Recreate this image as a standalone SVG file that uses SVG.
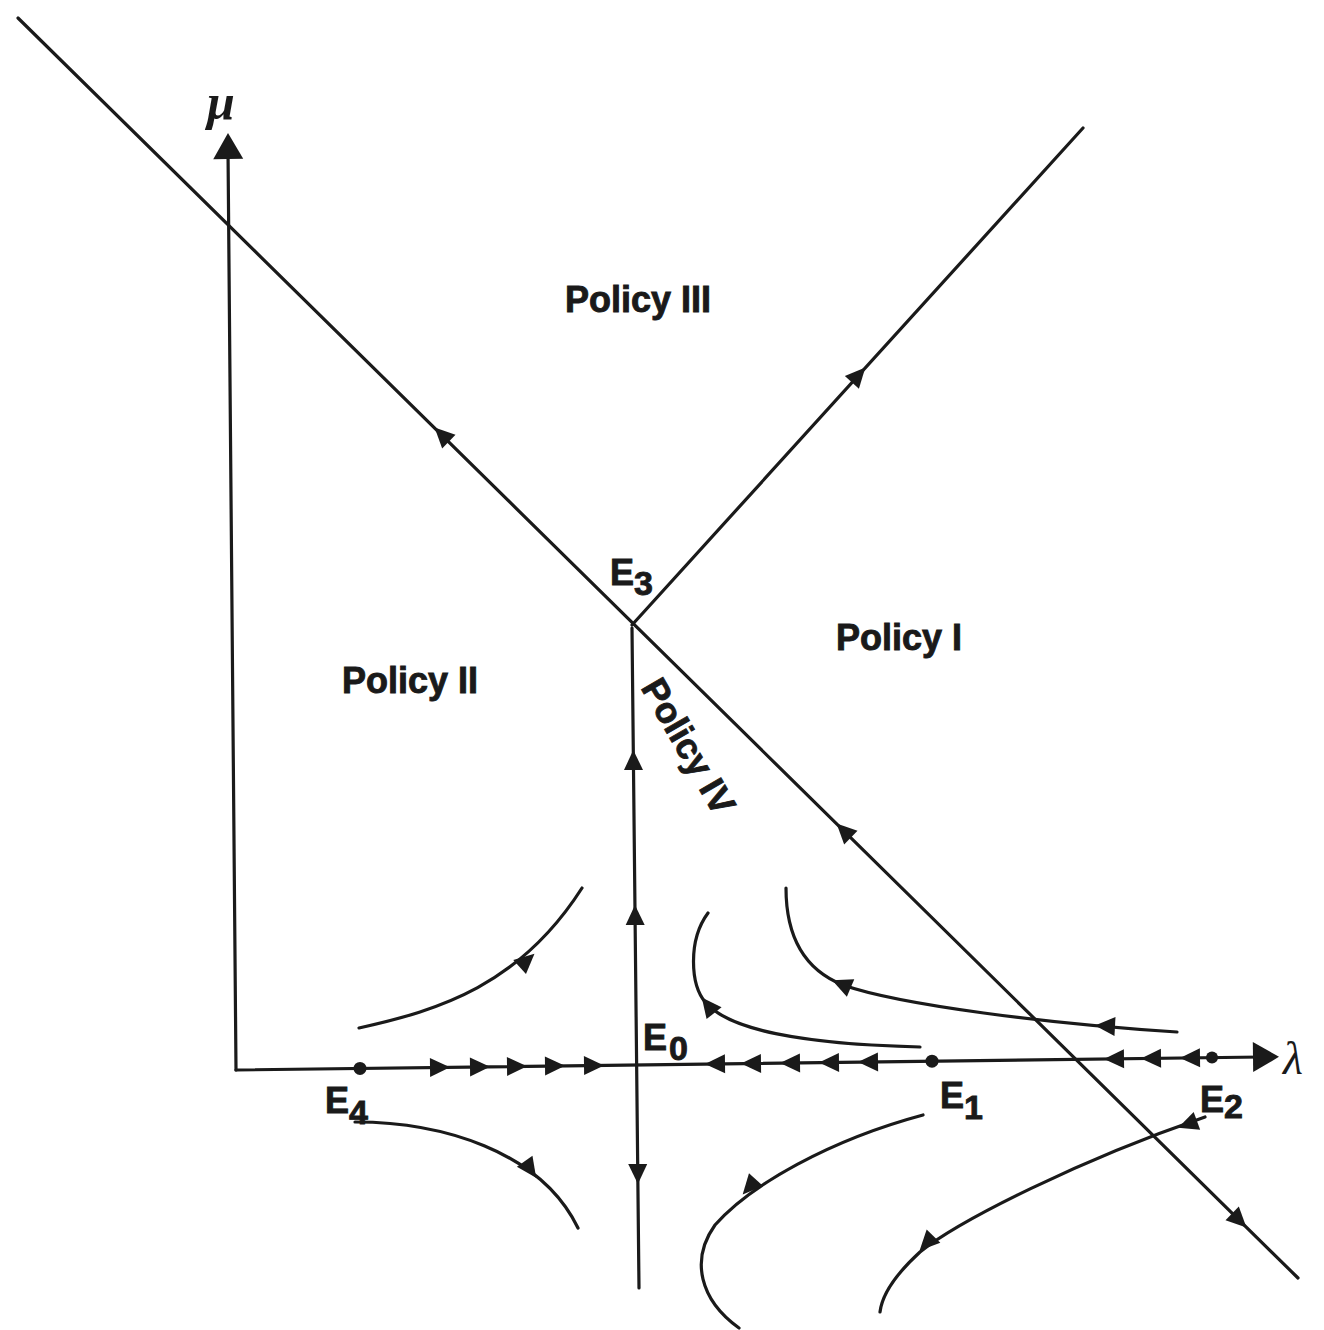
<svg xmlns="http://www.w3.org/2000/svg" xmlns:xlink="http://www.w3.org/1999/xlink" width="1324" height="1330" viewBox="0 0 1324 1330">
<style>
.ln{fill:none;stroke:#1a1a1a;stroke-width:3.2;stroke-linecap:round}
.ah{fill:#1a1a1a}
.lbl{font-family:"Liberation Sans",Arial,sans-serif;font-weight:bold;font-size:36px;fill:#1a1a1a;stroke:#1a1a1a;stroke-width:0.9}
.sub{font-size:34px}
.greek{font-family:"Liberation Serif","DejaVu Serif",serif;font-style:italic;fill:#1a1a1a}
.dot{fill:#1a1a1a}
</style>
<defs>
<path id="ah" d="M2,0 L-18,-9.5 L-18,9.5 Z" class="ah"/>
<path id="ahL" d="M0,0 L-26,-15 L-26,15 Z" class="ah"/>
</defs>
<rect width="1324" height="1330" fill="#ffffff"/>

<g id="connectors">
  <!-- axes -->
  <line class="ln" x1="236" y1="1070" x2="228" y2="150"/>
  <use href="#ahL" transform="translate(228,133) rotate(-90.5)"/>
  <line class="ln" x1="236" y1="1070" x2="1262" y2="1057"/>
  <use href="#ahL" transform="translate(1279,1056.8) rotate(-0.7)"/>

  <!-- separatrix lines -->
  <line class="ln" x1="18" y1="18" x2="1298" y2="1278"/>
  <line class="ln" x1="632" y1="625" x2="1083" y2="128"/>
  <line class="ln" x1="632" y1="628" x2="639" y2="1288"/>

  <!-- arrows on diagonal -->
  <use href="#ah" transform="translate(436,429) rotate(224.5)"/>
  <use href="#ah" transform="translate(838,825) rotate(224.5)"/>
  <use href="#ah" transform="translate(1245,1226) rotate(44.5)"/>
  <use href="#ah" transform="translate(864,369) rotate(-47.7)"/>

  <!-- arrows on vertical -->
  <use href="#ah" transform="translate(633.3,752) rotate(-90.6)"/>
  <use href="#ah" transform="translate(635,907) rotate(-90.6)"/>
  <use href="#ah" transform="translate(637.9,1182) rotate(89.4)"/>

  <!-- arrows on lambda axis -->
  <use href="#ah" transform="translate(448,1067.3) rotate(-0.7)"/>
  <use href="#ah" transform="translate(488,1066.8) rotate(-0.7)"/>
  <use href="#ah" transform="translate(525,1066.3) rotate(-0.7)"/>
  <use href="#ah" transform="translate(563,1065.8) rotate(-0.7)"/>
  <use href="#ah" transform="translate(602,1065.4) rotate(-0.7)"/>
  <use href="#ah" transform="translate(707,1064) rotate(179.3)"/>
  <use href="#ah" transform="translate(743,1063.6) rotate(179.3)"/>
  <use href="#ah" transform="translate(782,1063.1) rotate(179.3)"/>
  <use href="#ah" transform="translate(821,1062.6) rotate(179.3)"/>
  <use href="#ah" transform="translate(860,1062.1) rotate(179.3)"/>
  <use href="#ah" transform="translate(1106,1059) rotate(179.3)"/>
  <use href="#ah" transform="translate(1143,1058.5) rotate(179.3)"/>
  <use href="#ah" transform="translate(1182,1058) rotate(179.3)"/>

  <!-- trajectories -->
  <path class="ln" d="M359,1028 C440,1010 520,985 582,888"/>
  <use href="#ah" transform="translate(533,955) rotate(-42)"/>

  <path class="ln" d="M920,1047 C800,1044 730,1030 706,1003 C690,985 688,940 708,913"/>
  <use href="#ah" transform="translate(703,999) rotate(-128)"/>

  <path class="ln" d="M1177,1032 C1050,1024 900,1005 843,985 C800,968 786,930 786,888"/>
  <use href="#ah" transform="translate(1097,1025.5) rotate(183)"/>
  <use href="#ah" transform="translate(834,981) rotate(-157)"/>

  <path class="ln" d="M355,1122 C440,1122 540,1150 578,1228"/>
  <use href="#ah" transform="translate(535,1176) rotate(55)"/>

  <path class="ln" d="M923,1115 C830,1140 750,1185 715,1225 C690,1260 700,1300 739,1328"/>
  <use href="#ah" transform="translate(744,1193) rotate(132)"/>

  <path class="ln" d="M1205,1117 C1080,1160 960,1220 920,1252 C895,1275 882,1295 880,1312"/>
  <use href="#ah" transform="translate(1180,1127) rotate(160)"/>
  <use href="#ah" transform="translate(921,1249) rotate(134)"/>
</g>

<g id="axis-labels">
  <text class="greek" x="207" y="119" font-size="50" font-weight="bold">μ</text>
  <text class="greek" x="1283" y="1074" font-size="46">λ</text>
</g>

<g id="E0"><text class="lbl" x="643" y="1050">E<tspan class="sub" dx="2" dy="10">0</tspan></text></g>
<g id="E1"><circle class="dot" cx="932" cy="1061.2" r="6.5"/><text class="lbl" x="940" y="1108">E<tspan class="sub" dy="11">1</tspan></text></g>
<g id="E2"><circle class="dot" cx="1212" cy="1057.6" r="6"/><text class="lbl" x="1200" y="1112">E<tspan class="sub" dy="6">2</tspan></text></g>
<g id="E3"><text class="lbl" x="610" y="585">E<tspan class="sub" dy="10">3</tspan></text></g>
<g id="E4"><circle class="dot" cx="360" cy="1068.4" r="6.5"/><text class="lbl" x="325" y="1113">E<tspan class="sub" dy="11">4</tspan></text></g>

<g id="policy-I"><text class="lbl" x="836" y="650">Policy I</text></g>
<g id="policy-II"><text class="lbl" x="342" y="693">Policy II</text></g>
<g id="policy-III"><text class="lbl" x="565" y="312">Policy III</text></g>
<g id="policy-IV"><text class="lbl" text-anchor="middle" x="0" y="13" transform="translate(689,746) rotate(60)">Policy IV</text></g>
</svg>
